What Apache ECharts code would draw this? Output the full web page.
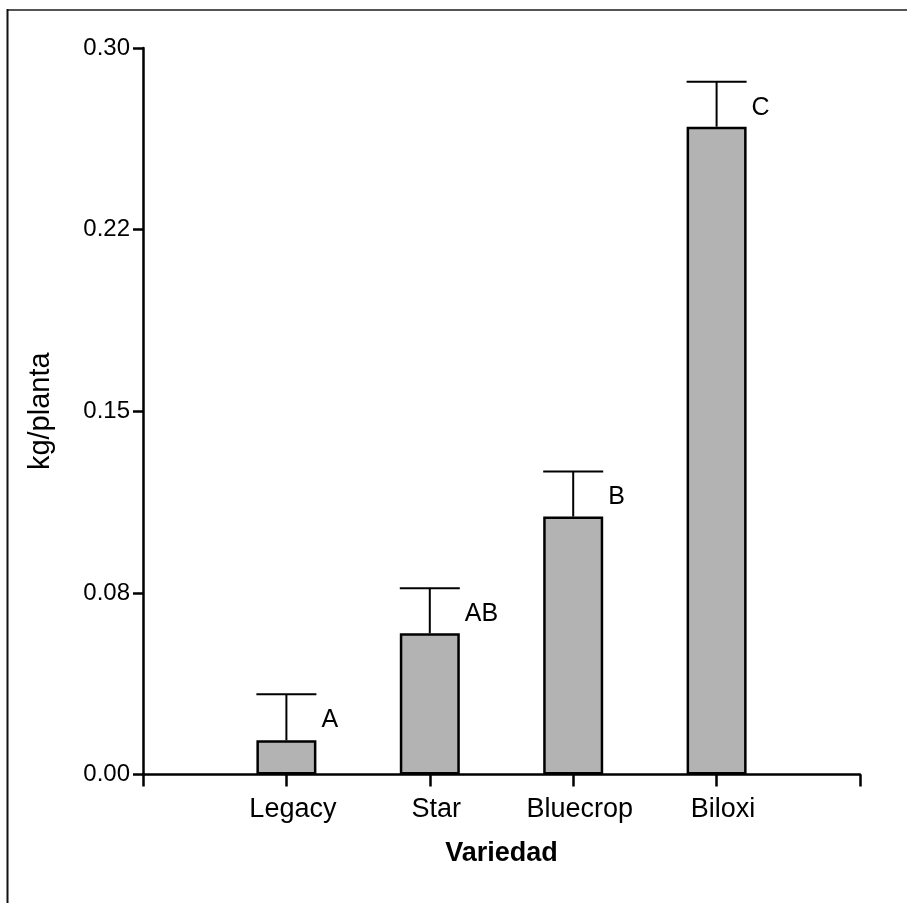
<!DOCTYPE html>
<html>
<head>
<meta charset="utf-8">
<script src="https://cdn.jsdelivr.net/npm/echarts@6/dist/echarts.min.js"></script>
<style>
  html, body { margin: 0; padding: 0; background: #fff; }
  #chart { width: 907px; height: 903px; }
</style>
</head>
<body>
<div id="chart"></div>
<script>
// datos
const categories = ['Legacy', 'Star', 'Bluecrop', 'Biloxi'];
const means = [0.0141, 0.0583, 0.1065, 0.2675];
const errors = [0.019, 0.0186, 0.0186, 0.0186];
const letters = ['A', 'AB', 'B', 'C'];
const yTickLabels = ['0.00', '0.08', '0.15', '0.22', '0.30'];

const FONT = 'Liberation Sans, Arial, sans-serif';
const BAR_W = 60;

// categoría vacía en cada extremo para dejar el hueco de los bordes
const axisCats = [''].concat(categories, ['']);

const chart = echarts.init(document.getElementById('chart'));

// barra de error (solo hacia arriba) + letra de significancia
function renderError(params, api) {
  const idx = api.value(0);
  const mean = api.value(1);
  const err = api.value(2);
  const base = api.coord([idx, mean]);
  const top = api.coord([idx, mean + err]);
  const half = BAR_W / 2;
  const lineStyle = { stroke: '#000', lineWidth: 2 };
  return {
    type: 'group',
    children: [
      { type: 'line', shape: { x1: base[0], y1: base[1], x2: top[0], y2: top[1] }, style: lineStyle },
      { type: 'line', shape: { x1: top[0] - half, y1: top[1], x2: top[0] + half, y2: top[1] }, style: lineStyle },
      {
        type: 'text',
        style: {
          text: letters[params.dataIndex],
          x: top[0] + half + 5,
          y: top[1] + 26,
          fill: '#000',
          fontSize: 25,
          fontFamily: FONT,
          align: 'left',
          verticalAlign: 'middle'
        }
      }
    ]
  };
}

const option = {
  backgroundColor: '#fff',
  animation: false,
  grid: { left: 143, right: 47, top: 48, bottom: 128.5, containLabel: false },
  xAxis: {
    type: 'category',
    data: axisCats,
    boundaryGap: false,
    name: 'Variedad',
    nameLocation: 'middle',
    nameGap: 66,
    nameTextStyle: { fontSize: 27, fontWeight: 'bold', color: '#000', fontFamily: FONT },
    axisLine: { lineStyle: { color: '#000', width: 2.5 } },
    axisTick: { show: true, interval: 0, length: 12, lineStyle: { color: '#000', width: 2.5 } },
    axisLabel: { interval: 0, margin: 22, padding: [0, 0, 0, 13], fontSize: 27, color: '#000', fontFamily: FONT },
    splitLine: { show: false }
  },
  yAxis: {
    type: 'value',
    min: 0,
    max: 0.3,
    interval: 0.075,
    name: 'kg/planta',
    nameLocation: 'middle',
    nameGap: 88,
    nameTextStyle: { fontSize: 29, color: '#000', fontFamily: FONT },
    axisLine: { show: true, lineStyle: { color: '#000', width: 2.5 } },
    axisTick: { show: true, length: 10, lineStyle: { color: '#000', width: 2.5 } },
    axisLabel: {
      margin: 13,
      padding: [4, 0, 0, 0],
      fontSize: 24,
      color: '#000',
      fontFamily: FONT,
      formatter: (v) => yTickLabels[Math.round(v / 0.075)]
    },
    splitLine: { show: false }
  },
  series: [
    {
      type: 'bar',
      data: means.map((m, i) => [i + 1, m]),
      barWidth: BAR_W,
      itemStyle: { color: '#b3b3b3', borderColor: '#000', borderWidth: 2.5 },
      z: 2
    },
    {
      type: 'custom',
      renderItem: renderError,
      data: means.map((m, i) => [i + 1, m, errors[i]]),
      z: 3
    }
  ],
  graphic: [
    { type: 'line', shape: { x1: 7, y1: 10, x2: 907, y2: 10 }, style: { stroke: '#555', lineWidth: 2 } },
    { type: 'line', shape: { x1: 7.5, y1: 9, x2: 7.5, y2: 903 }, style: { stroke: '#111', lineWidth: 2 } }
  ]
};

chart.setOption(option);
</script>
</body>
</html>
